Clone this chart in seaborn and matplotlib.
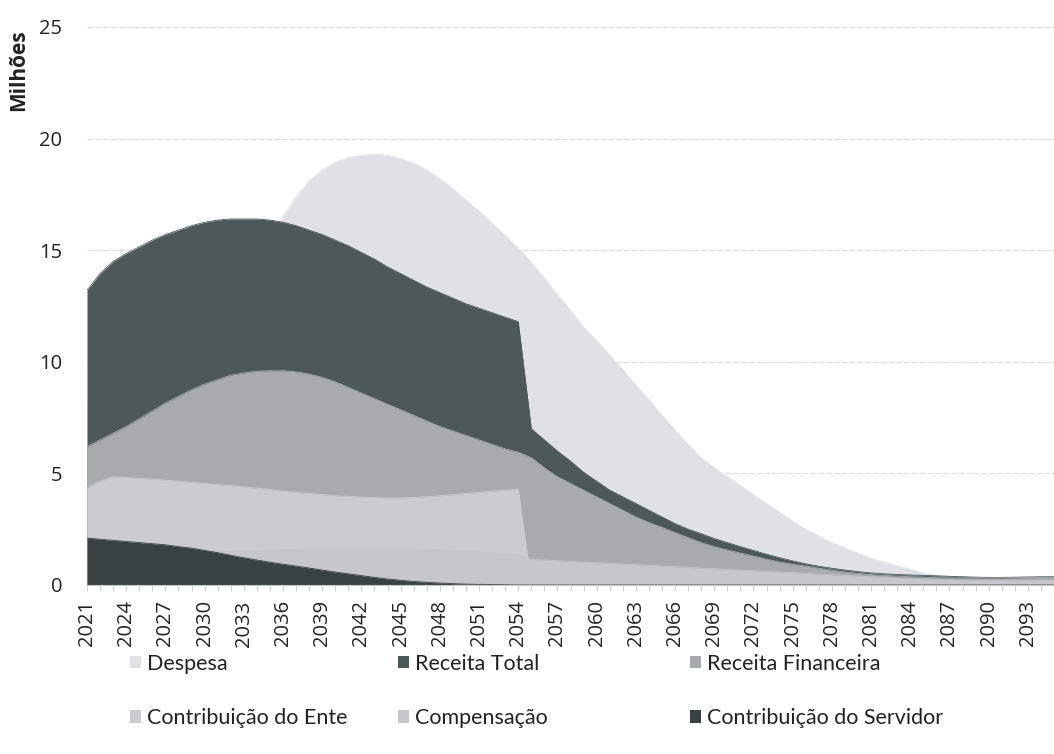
import pandas as pd
import seaborn as sns
import matplotlib.pyplot as plt
from matplotlib.patches import Patch

# ------------------------------
# dados (milhões), 2021 a 2095
# ------------------------------
anos = list(range(2021, 2096))

despesa = [8.0, 8.5, 9.0, 9.5, 10.0, 10.5, 11.0, 11.5, 12.0, 12.6,
           13.2, 13.8, 14.4, 15.0, 15.6, 16.5, 17.4, 18.1, 18.6, 18.95,
           19.15, 19.25, 19.3, 19.25, 19.1, 18.9, 18.6, 18.2, 17.75, 17.25,
           16.75, 16.2, 15.65, 15.1, 14.45, 13.75, 13.0, 12.3, 11.55, 10.95,
           10.3, 9.65, 8.95, 8.3, 7.6, 6.95, 6.3, 5.7, 5.25, 4.85,
           4.45, 4.05, 3.65, 3.25, 2.85, 2.5, 2.2, 1.9, 1.65, 1.42,
           1.2, 1.02, 0.86, 0.7, 0.55, 0.45, 0.38, 0.33, 0.3, 0.29,
           0.28, 0.28, 0.27, 0.27, 0.27]

receita_total = [13.2, 13.95, 14.5, 14.85, 15.15, 15.45, 15.7, 15.9, 16.1, 16.25,
                 16.35, 16.4, 16.4, 16.4, 16.35, 16.25, 16.1, 15.9, 15.7, 15.45,
                 15.2, 14.9, 14.6, 14.25, 13.95, 13.65, 13.35, 13.1, 12.85, 12.6,
                 12.4, 12.2, 12.0, 11.8, 7.0, 6.5, 6.0, 5.55, 5.05, 4.65,
                 4.25, 3.95, 3.65, 3.35, 3.05, 2.75, 2.5, 2.3, 2.08, 1.9,
                 1.72, 1.55, 1.38, 1.22, 1.08, 0.95, 0.84, 0.75, 0.67, 0.6,
                 0.54, 0.5, 0.47, 0.45, 0.43, 0.41, 0.39, 0.37, 0.35, 0.34,
                 0.34, 0.35, 0.36, 0.37, 0.37]

receita_financeira = [6.2, 6.5, 6.8, 7.1, 7.45, 7.8, 8.15, 8.45, 8.75, 9.0,
                      9.2, 9.4, 9.5, 9.58, 9.6, 9.6, 9.55, 9.45, 9.3, 9.1,
                      8.85, 8.6, 8.35, 8.1, 7.85, 7.6, 7.35, 7.1, 6.9, 6.7,
                      6.5, 6.3, 6.1, 5.95, 5.7, 5.25, 4.85, 4.55, 4.25, 3.95,
                      3.65, 3.35, 3.05, 2.8, 2.58, 2.35, 2.12, 1.9, 1.72, 1.57,
                      1.43, 1.3, 1.15, 1.03, 0.93, 0.85, 0.75, 0.66, 0.58, 0.52,
                      0.47, 0.43, 0.4, 0.37, 0.35, 0.33, 0.32, 0.31, 0.31, 0.31,
                      0.31, 0.32, 0.33, 0.34, 0.34]

contrib_ente = [4.35, 4.65, 4.85, 4.82, 4.78, 4.74, 4.7, 4.65, 4.6, 4.55,
                4.5, 4.45, 4.4, 4.34, 4.28, 4.2, 4.15, 4.1, 4.05, 4.0,
                3.97, 3.94, 3.92, 3.9, 3.9, 3.92, 3.96, 4.0, 4.05, 4.1,
                4.15, 4.2, 4.25, 4.3, 0.12, 0.1, 0.09, 0.08, 0.07, 0.06,
                0.05, 0.05, 0.04, 0.04, 0.03, 0.03, 0.02, 0.02, 0.02, 0.01,
                0.01, 0.01, 0.01, 0.0, 0.0, 0.0, 0.0, 0.0, 0.0, 0.0,
                0.0, 0.0, 0.0, 0.0, 0.0, 0.0, 0.0, 0.0, 0.0, 0.0,
                0.0, 0.0, 0.0, 0.0, 0.0]

compensacao = [1.2, 1.22, 1.25, 1.28, 1.3, 1.33, 1.36, 1.39, 1.42, 1.45,
               1.48, 1.5, 1.52, 1.54, 1.56, 1.58, 1.6, 1.62, 1.63, 1.64,
               1.65, 1.65, 1.65, 1.64, 1.63, 1.62, 1.6, 1.58, 1.55, 1.52,
               1.48, 1.44, 1.4, 1.35, 1.15, 1.12, 1.09, 1.06, 1.03, 1.0,
               0.97, 0.94, 0.91, 0.88, 0.85, 0.82, 0.79, 0.76, 0.73, 0.7,
               0.67, 0.64, 0.61, 0.58, 0.55, 0.52, 0.49, 0.46, 0.43, 0.4,
               0.37, 0.34, 0.31, 0.29, 0.27, 0.25, 0.23, 0.22, 0.21, 0.2,
               0.2, 0.2, 0.2, 0.2, 0.2]

contrib_servidor = [2.1, 2.05, 2.0, 1.95, 1.9, 1.85, 1.8, 1.72, 1.65, 1.55,
                    1.45, 1.33, 1.22, 1.12, 1.02, 0.93, 0.85, 0.76, 0.67, 0.58,
                    0.5, 0.42, 0.34, 0.27, 0.21, 0.16, 0.12, 0.09, 0.06, 0.04,
                    0.03, 0.02, 0.01, 0.0, 0.0, 0.0, 0.0, 0.0, 0.0, 0.0,
                    0.0, 0.0, 0.0, 0.0, 0.0, 0.0, 0.0, 0.0, 0.0, 0.0,
                    0.0, 0.0, 0.0, 0.0, 0.0, 0.0, 0.0, 0.0, 0.0, 0.0,
                    0.0, 0.0, 0.0, 0.0, 0.0, 0.0, 0.0, 0.0, 0.0, 0.0,
                    0.0, 0.0, 0.0, 0.0, 0.0]

nomes = ['Despesa', 'Receita Total', 'Receita Financeira',
         'Contribuição do Ente', 'Compensação', 'Contribuição do Servidor']
cores = ['#e0e1e4', '#4d5858', '#a7abac', '#cacccf', '#c5c8cb', '#394141']

df = pd.DataFrame({'Ano': anos,
                   'Despesa': despesa,
                   'Receita Total': receita_total,
                   'Receita Financeira': receita_financeira,
                   'Contribuição do Ente': contrib_ente,
                   'Compensação': compensacao,
                   'Contribuição do Servidor': contrib_servidor})

sns.set_theme(style='white')
plt.rcParams['font.family'] = ['Open Sans', 'DejaVu Sans']

fig = plt.figure(figsize=(10.54, 7.54), dpi=100)
ax = fig.add_axes([87 / 1054, 1 - 585 / 754, 1 - 87 / 1054, (585 - 27) / 754])

# areas sobrepostas, na ordem do Excel (a ultima fica na frente)
for i, (nome, cor) in enumerate(zip(nomes, cores)):
    ax.fill_between(df['Ano'], 0, df[nome], color=cor, lw=0, zorder=2 + i)
    sns.lineplot(x='Ano', y=nome, data=df, ax=ax, color=cor, lw=0.6,
                 zorder=2 + i, legend=False)

ax.set_xlim(2021, 2021 + (1054 - 87) / 13.15)
ax.set_ylim(0, 25)
ax.set_yticks(range(0, 26, 5))
ax.set_xticks(range(2021, 2094, 3))
ax.set_xticks(anos, minor=True)
ax.set_xticklabels([str(a) for a in range(2021, 2094, 3)], rotation=90, fontsize=14.5)
ax.tick_params(axis='y', labelsize=14.5, length=0, pad=18, labelcolor='#222222')
ax.tick_params(axis='x', which='both', bottom=True, length=4, width=0.6,
               color='#c8c8c8', pad=7, labelcolor='#222222')
ax.set_xlabel('')
ax.set_ylabel('')

ax.yaxis.grid(True, color='#d9d9d9', lw=0.8, ls=(0, (5, 2)))
ax.set_axisbelow(True)
for lado in ['top', 'right', 'left']:
    ax.spines[lado].set_visible(False)
ax.spines['bottom'].set_color('#c8c8c8')
ax.spines['bottom'].set_linewidth(0.8)
ax.spines['bottom'].set_zorder(20)

fig.text(19 / 1054, 1 - 70 / 754, 'Milhões', rotation=90, ha='center', va='center',
         fontsize=15, fontweight='bold', color='#222222')

# legenda em tres colunas fixas, como no Excel
colunas = [(130, ['Despesa', 'Contribuição do Ente']),
           (398, ['Receita Total', 'Compensação']),
           (690, ['Receita Financeira', 'Contribuição do Servidor'])]
for x0, itens in colunas:
    handles = [Patch(facecolor=cores[nomes.index(n)], edgecolor='none') for n in itens]
    leg = fig.legend(handles, itens, loc='center left',
                     bbox_to_anchor=(x0 / 1054, 1 - 691 / 754), frameon=False,
                     prop={'family': ['Lato', 'DejaVu Sans'], 'size': 15.5},
                     handlelength=0.5, handleheight=0.5, handletextpad=0.3,
                     labelspacing=1.6, borderpad=0, borderaxespad=0)
    for t in leg.get_texts():
        t.set_color('#222222')

fig.savefig('out.png', dpi=100)
